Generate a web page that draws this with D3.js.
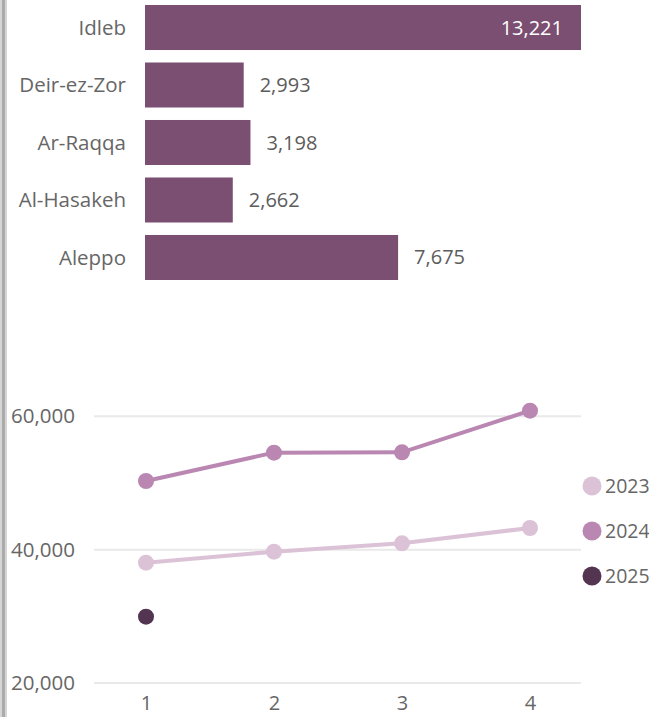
<!DOCTYPE html>
<html>
<head>
<meta charset="utf-8">
<script src="https://cdn.jsdelivr.net/npm/d3@7"></script>
<style>
  html, body { margin: 0; padding: 0; background: #fff; }
  svg { display: block; font-family: "Open Sans", "Noto Sans", sans-serif; }
</style>
</head>
<body>
<svg id="chart"></svg>
<script>
const width = 649,
      height = 717;

// bar chart data
const regions = ["Idleb", "Deir-ez-Zor", "Ar-Raqqa", "Al-Hasakeh", "Aleppo"];
const regionValues = [13221, 2993, 3198, 2662, 7675];

// line chart data (by quarter)
const quarters = [1, 2, 3, 4];
const years = ["2023", "2024", "2025"];
const values2023 = [38050, 39700, 40950, 43250];
const values2024 = [50300, 54550, 54600, 60850];
const values2025 = [29950];
const yTicks = [20000, 40000, 60000];

const barColor = "#7b4f71",
      textGray = "#666666",
      gridGray = "#e9e9e9",
      yearColors = ["#dcc2d6", "#b987b1", "#533451"];

const svg = d3.select("#chart")
  .attr("width", width)
  .attr("height", height);

// left border strip
svg.append("rect")
  .attr("x", 0).attr("y", 0)
  .attr("width", 7).attr("height", height)
  .attr("fill", "#d6d6d6");
svg.append("rect")
  .attr("x", 2).attr("y", 0)
  .attr("width", 3).attr("height", height)
  .attr("fill", "#ababab");

// ---- bars ----
const x = d3.scaleLinear()
  .domain([0, d3.max(regionValues)])
  .range([145, 581]);

const y = d3.scaleBand()
  .domain(regions)
  .range([5, 280])
  .paddingInner(0.217)
  .paddingOuter(0);

const barData = regions.map((r, i) => ({ name: r, value: regionValues[i] }));
const fmt = d3.format(",");
const maxVal = d3.max(regionValues);

const bar = svg.append("g").selectAll("g")
  .data(barData)
  .enter().append("g");

bar.append("rect")
  .attr("x", x(0))
  .attr("y", d => y(d.name))
  .attr("width", d => x(d.value) - x(0))
  .attr("height", y.bandwidth())
  .attr("fill", barColor);

bar.append("text")
  .attr("x", x(0) - 19)
  .attr("y", d => y(d.name) + y.bandwidth() / 2)
  .attr("dy", "0.35em")
  .attr("text-anchor", "end")
  .attr("fill", textGray)
  .style("font-size", "20.5px")
  .text(d => d.name);

// value labels: inside the longest bar, outside the others
bar.append("text")
  .attr("x", d => d.value === maxVal ? x(d.value) - 18 : x(d.value) + 16)
  .attr("y", d => y(d.name) + y.bandwidth() / 2)
  .attr("dy", "0.35em")
  .attr("text-anchor", d => d.value === maxVal ? "end" : "start")
  .attr("fill", d => d.value === maxVal ? "#ffffff" : "#5c5c5c")
  .style("font-size", "20px")
  .text(d => fmt(d.value));

// ---- lines ----
const lx = d3.scalePoint()
  .domain(quarters)
  .range([146, 530]);

const ly = d3.scaleLinear()
  .domain([20000, 60000])
  .range([683, 416.3]);

const grid = svg.append("g");
grid.selectAll("line")
  .data(yTicks)
  .enter().append("line")
  .attr("x1", 94).attr("x2", 581)
  .attr("y1", d => ly(d)).attr("y2", d => ly(d))
  .attr("stroke", gridGray)
  .attr("stroke-width", 2);

const yAxis = svg.append("g")
  .attr("transform", "translate(75,0)")
  .call(d3.axisLeft(ly).tickValues(yTicks).tickFormat(fmt).tickSize(0).tickPadding(0));
yAxis.select(".domain").remove();
yAxis.selectAll("text")
  .attr("fill", textGray)
  .style("font-size", "20.5px")
  .style("font-family", "'Open Sans', 'Noto Sans', sans-serif");

const xAxis = svg.append("g")
  .attr("transform", "translate(0,703)")
  .call(d3.axisBottom(lx).tickSize(0).tickPadding(0));
xAxis.select(".domain").remove();
xAxis.selectAll("text")
  .attr("dy", "0.35em")
  .attr("fill", textGray)
  .style("font-size", "20px")
  .style("font-family", "'Open Sans', 'Noto Sans', sans-serif");

const series = [values2023, values2024, values2025].map((vals, i) => ({
  year: years[i],
  color: yearColors[i],
  points: vals.map((v, j) => ({ q: quarters[j], v: v }))
}));

const line = d3.line()
  .x(d => lx(d.q))
  .y(d => ly(d.v));

const sg = svg.append("g").selectAll("g")
  .data(series)
  .enter().append("g");

sg.filter(d => d.points.length > 1)
  .append("path")
  .attr("d", d => line(d.points))
  .attr("fill", "none")
  .attr("stroke", d => d.color)
  .attr("stroke-width", 4);

sg.each(function(s) {
  d3.select(this).selectAll("circle")
    .data(s.points)
    .enter().append("circle")
    .attr("cx", d => lx(d.q))
    .attr("cy", d => ly(d.v))
    .attr("r", 8)
    .attr("fill", s.color);
});

// ---- legend ----
const legend = svg.append("g").selectAll("g")
  .data(series)
  .enter().append("g")
  .attr("transform", (d, i) => "translate(592," + (486 + i * 45) + ")");

legend.append("circle")
  .attr("r", 9.5)
  .attr("fill", d => d.color);

legend.append("text")
  .attr("x", 13)
  .attr("dy", "0.35em")
  .attr("fill", textGray)
  .style("font-size", "19.5px")
  .text(d => d.year);
</script>
</body>
</html>
